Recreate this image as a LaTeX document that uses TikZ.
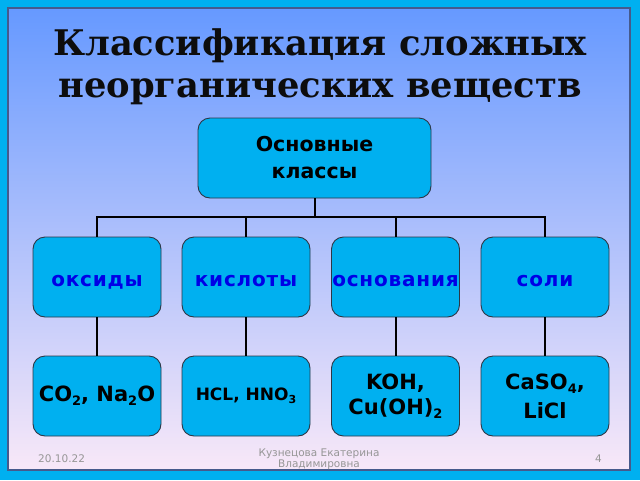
\documentclass[tikz,border=0pt]{standalone}
\usepackage{fontspec}
\setmainfont{DejaVu Serif}
\newfontfamily\boxfont{DejaVu Sans}
\newfontfamily\kindfont{DejaVu Sans}[LetterSpace=4]
\newfontfamily\footfont{DejaVu Sans}
\definecolor{frame}{RGB}{0,176,240}
\definecolor{boxfill}{RGB}{0,176,240}
\definecolor{boxline}{RGB}{45,55,70}
\definecolor{toptone}{RGB}{102,153,255}
\definecolor{bottomtone}{RGB}{248,232,248}
\definecolor{paneledge}{RGB}{70,90,140}
\definecolor{bluetext}{RGB}{0,0,230}
\definecolor{foot}{RGB}{150,150,150}
\newcommand{\chsub}[1]{\raisebox{-0.35ex}{\fontsize{13}{13}\selectfont #1}}
\newcommand{\chsubs}[1]{\raisebox{-0.35ex}{\fontsize{11}{11}\selectfont #1}}
\newcommand{\kindlabel}[1]{\raisebox{-9pt}[0pt][0pt]{#1}}
\tikzset{
  classbox/.style={draw=boxline, line width=0.9pt, fill=boxfill, rounded corners=12pt,
    minimum width=128pt, minimum height=80pt, inner sep=0pt, align=center,
    font=\boxfont\bfseries\fontsize{20.5}{27}\selectfont},
  kindtext/.style={text=bluetext, font=\kindfont\bfseries\fontsize{20}{24}\selectfont},
  link/.style={draw=black, line width=2pt},
  foottext/.style={text=foot, font=\footfont\fontsize{10.5}{11}\selectfont, inner sep=0pt},
  titletext/.style={font=\bfseries\fontsize{35.3}{40}\selectfont, text=black!95, anchor=base, inner sep=0pt}
}
\begin{document}
\begin{tikzpicture}[x=1pt,y=-1pt]
\useasboundingbox (0,0) rectangle (640,480);
\fill[frame] (0,0) rectangle (640,480);
\shade[top color=toptone, bottom color=bottomtone] (8,8) rectangle (630,470);
\draw[paneledge, line width=1.2pt] (8,8) rectangle (630,470);
% title
\node[titletext] (t1) at (320,55) {Классификация сложных};
\node[titletext] (t2) at (320,97) {неорганических веществ};
% boxes
\node[classbox, minimum width=233pt] (top) at (314.5,158) {Основные\\классы};
\node[classbox, kindtext] (ox) at (97,277) {\kindlabel{оксиды}};
\node[classbox, kindtext] (ac) at (246,277) {\kindlabel{кислоты}};
\node[classbox, kindtext] (ba) at (395.5,277) {\kindlabel{основания}};
\node[classbox, kindtext] (sa) at (545,277) {\kindlabel{соли}};
\node[classbox, font=\boxfont\bfseries\fontsize{21}{25}\selectfont] (oxe) at (97,396) {CO\chsub{2}, Na\chsub{2}O};
\node[classbox, font=\boxfont\bfseries\fontsize{17}{20}\selectfont] (ace) at (246,396) {HCL, HNO\chsubs{3}};
\node[classbox, font=\boxfont\bfseries\fontsize{21}{25}\selectfont] (bae) at (395.5,396) {KOH,\\Cu(OH)\chsub{2}};
\node[classbox, font=\boxfont\bfseries\fontsize{21}{29}\selectfont] (sae) at (545,396) {CaSO\chsub{4},\\LiCl};
% connectors
\coordinate (bar) at (314.5,217);
\draw[link] (top.south) -- (bar);
\draw[link] (ox.north) -- (ox.north |- bar) -- (sa.north |- bar) -- (sa.north);
\draw[link] (ac.north) -- (ac.north |- bar);
\draw[link] (ba.north) -- (ba.north |- bar);
\draw[link] (ox.south) -- (oxe.north);
\draw[link] (ac.south) -- (ace.north);
\draw[link] (ba.south) -- (bae.north);
\draw[link] (sa.south) -- (sae.north);
% footer
\node[foottext, anchor=base west] (date) at (38,462) {20.10.22};
\node[foottext, anchor=base, align=center] (auth) at (319,456) {Кузнецова Екатерина};
\node[foottext, anchor=base, align=center] (auth2) at (319,467) {Владимировна};
\node[foottext, anchor=base east] (num) at (602,462) {4};
\end{tikzpicture}
\end{document}
